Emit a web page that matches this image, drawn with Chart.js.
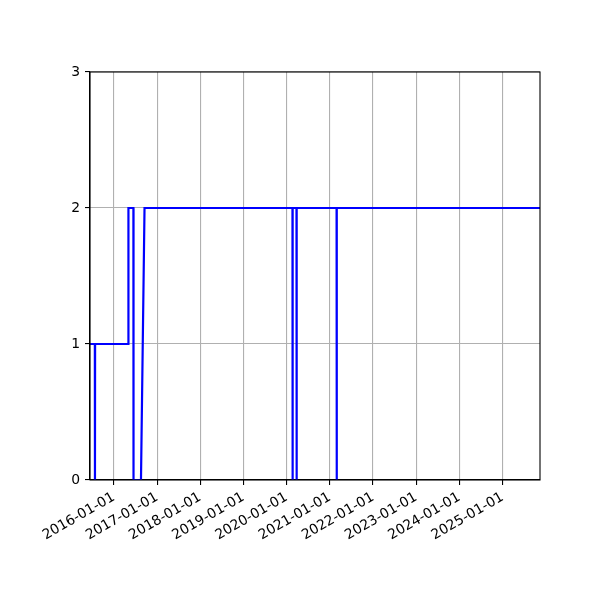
<!DOCTYPE html>
<html>
<head>
<meta charset="utf-8">
<script src="https://cdn.jsdelivr.net/npm/chart.js@4.4.1/dist/chart.umd.min.js"></script>
<style>
  html, body { margin: 0; padding: 0; background: #fff; }
  #wrap { width: 600px; height: 600px; }
</style>
</head>
<body>
<div id="wrap"><canvas id="chart" width="600" height="600"></canvas></div>
<script>
// step series, one point per change
const dates = [
  "2015-06-14", "2015-07-25", "2015-07-26", "2015-07-27",
  "2016-05-03", "2016-05-04", "2016-06-15", "2016-06-16",
  "2016-08-18", "2016-09-17",
  "2020-02-20", "2020-02-21", "2020-02-22",
  "2020-03-25", "2020-03-26", "2020-03-27",
  "2021-02-27", "2021-02-28", "2021-03-01",
  "2025-11-13",
];
const values = [1, 1, 0, 1, 1, 2, 2, 0, 0, 2, 2, 0, 2, 2, 0, 2, 2, 0, 2, 2];

const xTickLabels = [
  "2016-01-01", "2017-01-01", "2018-01-01", "2019-01-01", "2020-01-01",
  "2021-01-01", "2022-01-01", "2023-01-01", "2024-01-01", "2025-01-01",
];
const yTicks = [0, 1, 2, 3];
const xRange = ["2015-06-14", "2025-11-13"];

const FONT = { family: "'DejaVu Sans'", size: 13.9 };

function fmtDate(v) {
  return new Date(v).toISOString().slice(0, 10);
}

const spines = {
  id: "spines",
  afterDraw(chart) {
    const a = chart.chartArea;
    const c = chart.ctx;
    c.save();
    c.strokeStyle = "#000";
    c.lineWidth = 1.1;
    c.strokeRect(a.left, a.top, a.right - a.left, a.bottom - a.top);
    c.restore();
  },
};

new Chart(document.getElementById("chart"), {
  type: "line",
  data: {
    datasets: [
      {
        data: dates.map((d, i) => ({ x: Date.parse(d), y: values[i] })),
        borderColor: "#0000ff",
        borderWidth: 2.2,
        pointRadius: 0,
        tension: 0,
        fill: false,
      },
    ],
  },
  options: {
    responsive: false,
    animation: false,
    layout: { padding: { top: 72, right: 60, left: 0, bottom: 0 } },
    plugins: { legend: { display: false }, tooltip: { enabled: false } },
    scales: {
      x: {
        type: "linear",
        min: Date.parse(xRange[0]),
        max: Date.parse(xRange[1]),
        afterBuildTicks: (s) => {
          s.ticks = xTickLabels.map((d) => ({ value: Date.parse(d) }));
        },
        afterFit: (s) => { s.height = 120; },
        ticks: {
          autoSkip: false,
          maxRotation: 30,
          minRotation: 30,
          padding: 4,
          color: "#000",
          font: FONT,
          callback: (v) => fmtDate(v),
        },
        grid: { color: "#b0b0b0", lineWidth: 1.1, tickColor: "#000", tickLength: 5, tickWidth: 1.1 },
        border: { color: "#000", width: 1.1 },
      },
      y: {
        min: yTicks[0],
        max: yTicks[yTicks.length - 1],
        afterBuildTicks: (s) => {
          s.ticks = yTicks.map((v) => ({ value: v }));
        },
        afterFit: (s) => { s.width = 90; },
        ticks: { padding: 5, color: "#000", font: FONT },
        grid: { color: "#b0b0b0", lineWidth: 1.1, tickColor: "#000", tickLength: 5, tickWidth: 1.1 },
        border: { color: "#000", width: 1.1 },
      },
    },
  },
  plugins: [spines],
});
</script>
</body>
</html>
